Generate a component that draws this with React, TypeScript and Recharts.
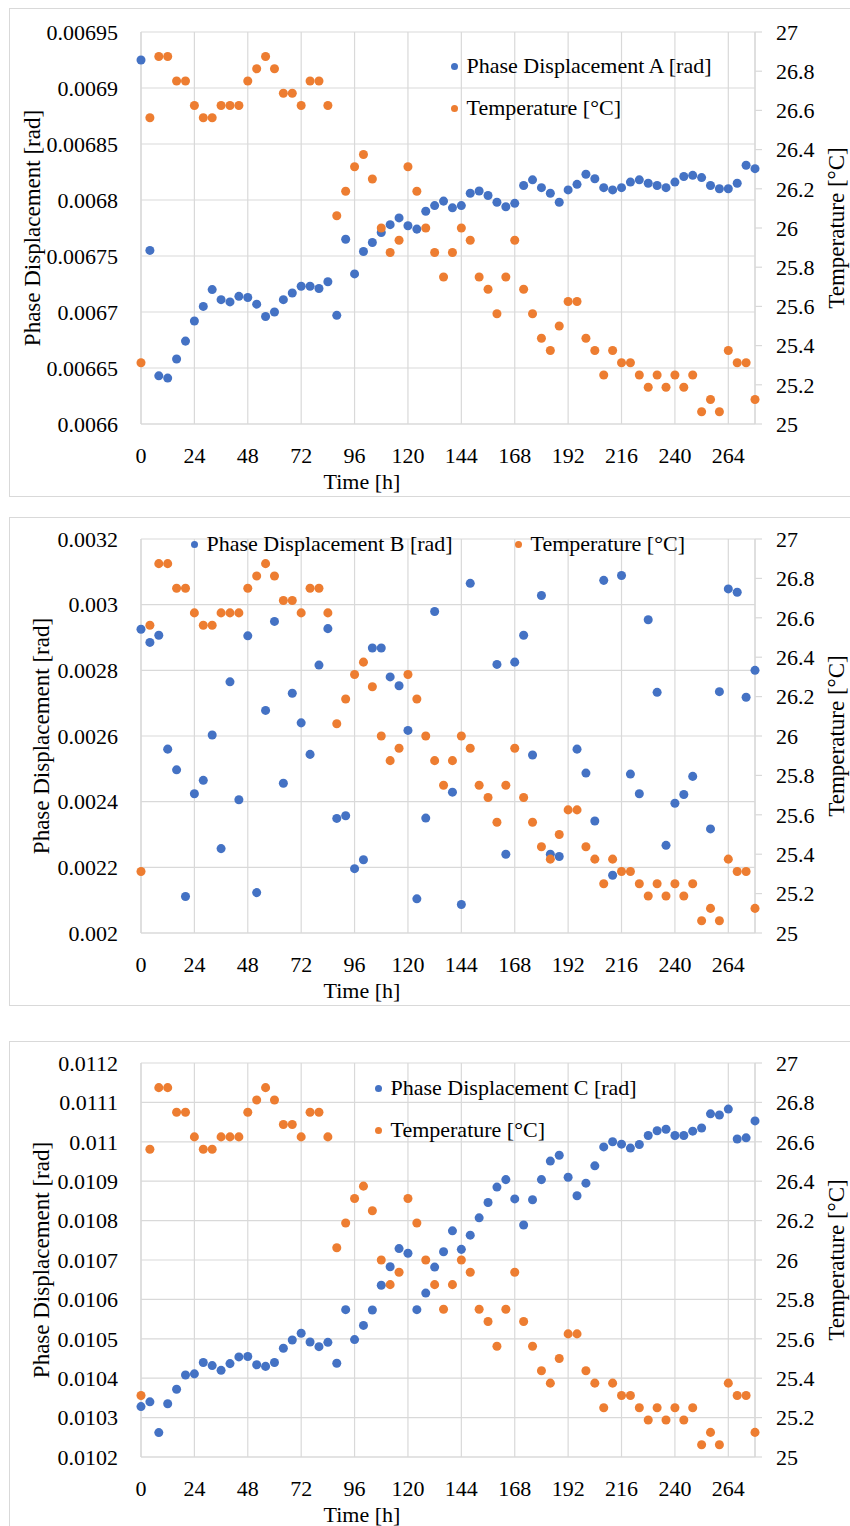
import React from "react";
import { ScatterChart, Scatter, XAxis, YAxis, CartesianGrid, Legend } from "recharts";

const hours = [
  0, 4, 8, 12, 16, 20, 24, 28, 32, 36,
  40, 44, 48, 52, 56, 60, 64, 68, 72, 76,
  80, 84, 88, 92, 96, 100, 104, 108, 112, 116,
  120, 124, 128, 132, 136, 140, 144, 148, 152, 156,
  160, 164, 168, 172, 176, 180, 184, 188, 192, 196,
  200, 204, 208, 212, 216, 220, 224, 228, 232, 236,
  240, 244, 248, 252, 256, 260, 264, 268, 272, 276,
];

const temperature = [
  25.3125, 26.5625, 26.875, 26.875, 26.75, 26.75, 26.625, 26.5625, 26.5625, 26.625,
  26.625, 26.625, 26.75, 26.8125, 26.875, 26.8125, 26.6875, 26.6875, 26.625, 26.75,
  26.75, 26.625, 26.0625, 26.1875, 26.3125, 26.375, 26.25, 26.0, 25.875, 25.9375,
  26.3125, 26.1875, 26.0, 25.875, 25.75, 25.875, 26.0, 25.9375, 25.75, 25.6875,
  25.5625, 25.75, 25.9375, 25.6875, 25.5625, 25.4375, 25.375, 25.5, 25.625, 25.625,
  25.4375, 25.375, 25.25, 25.375, 25.3125, 25.3125, 25.25, 25.1875, 25.25, 25.1875,
  25.25, 25.1875, 25.25, 25.0625, 25.125, 25.0625, 25.375, 25.3125, 25.3125, 25.125,
];

const phaseA = [
  0.006925, 0.006755, 0.006643, 0.006641, 0.006658, 0.006674, 0.006692, 0.006705, 0.00672, 0.006711,
  0.006709, 0.006714, 0.006713, 0.006707, 0.006696, 0.0067, 0.006711, 0.006717, 0.006723, 0.006723,
  0.006721, 0.006727, 0.006697, 0.006765, 0.006734, 0.006754, 0.006762, 0.006771, 0.006778, 0.006784,
  0.006777, 0.006774, 0.00679, 0.006795, 0.006799, 0.006793, 0.006795, 0.006806, 0.006808, 0.006804,
  0.006798, 0.006794, 0.006797, 0.006813, 0.006818, 0.006811, 0.006806, 0.006798, 0.006809, 0.006814,
  0.006823, 0.006819, 0.006811, 0.006809, 0.006811, 0.006816, 0.006818, 0.006815, 0.006813, 0.006811,
  0.006816, 0.006821, 0.006822, 0.00682, 0.006813, 0.00681, 0.00681, 0.006815, 0.006831, 0.006828,
];

const phaseB = [
  0.002925, 0.002885, 0.002907, 0.00256, 0.002497, 0.002111, 0.002424, 0.002465, 0.002603, 0.002257,
  0.002765, 0.002406, 0.002905, 0.002123, 0.002678, 0.002949, 0.002456, 0.00273, 0.00264, 0.002544,
  0.002816, 0.002927, 0.002349, 0.002357, 0.002196, 0.002223, 0.002868, 0.002868, 0.00278, 0.002753,
  0.002617, 0.002104, 0.00235, 0.002979, null, 0.002429, 0.002087, 0.003065, null, null,
  0.002818, 0.00224, 0.002825, 0.002907, 0.002542, 0.003028, 0.00224, 0.002233, null, 0.00256,
  0.002487, 0.002341, 0.003074, 0.002176, 0.003089, 0.002484, 0.002424, 0.002954, 0.002733, 0.002267,
  0.002395, 0.002422, 0.002477, null, 0.002317, 0.002735, 0.003048, 0.003038, 0.002718, 0.0028,
];

const phaseC = [
  0.010328, 0.01034, 0.010262, 0.010335, 0.010372, 0.010408, 0.010411, 0.01044, 0.010432, 0.01042,
  0.010437, 0.010454, 0.010455, 0.010434, 0.01043, 0.01044, 0.010476, 0.010497, 0.010514, 0.010492,
  0.01048, 0.010491, 0.010438, 0.010574, 0.010498, 0.010534, 0.010573, 0.010636, 0.010683, 0.010729,
  0.010717, 0.010574, 0.010616, 0.010682, 0.010721, 0.010774, 0.010727, 0.010763, 0.010807, 0.010846,
  0.010885, 0.010904, 0.010855, 0.010789, 0.010853, 0.010904, 0.010951, 0.010966, 0.01091, 0.010863,
  0.010895, 0.010939, 0.010987, 0.011, 0.010994, 0.010984, 0.010993, 0.011016, 0.011028, 0.011032,
  0.011016, 0.011016, 0.011027, 0.011035, 0.011071, 0.011068, 0.011083, 0.011007, 0.01101, 0.011053,
];

const hourTicks = [0, 24, 48, 72, 96, 120, 144, 168, 192, 216, 240, 264];
const tempTicks = [25, 25.2, 25.4, 25.6, 25.8, 26, 26.2, 26.4, 26.6, 26.8, 27];
const phaseATicks = [0.0066, 0.00665, 0.0067, 0.00675, 0.0068, 0.00685, 0.0069, 0.00695];
const phaseBTicks = [0.002, 0.0022, 0.0024, 0.0026, 0.0028, 0.003, 0.0032];
const phaseCTicks = [0.0102, 0.0103, 0.0104, 0.0105, 0.0106, 0.0107, 0.0108, 0.0109, 0.011, 0.0111, 0.0112];

const BLUE = "#4472C4";
const ORANGE = "#ED7D31";
const GRID = "#d9d9d9";
const FONT = "'Liberation Serif', 'Times New Roman', serif";
const W = 841;
const H = 489;
const tickStyle = { fontSize: 22, fill: "#000", fontFamily: FONT };

const toPoints = (values: (number | null)[]) =>
  hours
    .map((h, i) => ({ x: h, y: values[i] }))
    .filter((p) => p.y !== null);

type Spot = { x: number; y: number };

const makeLegend = (spots: Spot[]) => (props: any) => {
  const payload = props.payload || [];
  return (
    <div style={{ position: "relative", width: W, height: H }}>
      {payload.map((entry: any, i: number) => (
        <div
          key={i}
          style={{
            position: "absolute",
            left: spots[i].x - 3.5,
            top: spots[i].y - 13,
            height: 26,
            lineHeight: "26px",
            display: "flex",
            alignItems: "center",
            whiteSpace: "nowrap",
            fontSize: 22,
            fontFamily: FONT,
            color: "#000",
          }}
        >
          <span
            style={{
              width: 7,
              height: 7,
              borderRadius: "50%",
              background: entry.color,
              marginRight: 9,
              display: "inline-block",
            }}
          />
          <span>{entry.value}</span>
        </div>
      ))}
    </div>
  );
};

const titleStyle: React.CSSProperties = {
  position: "absolute",
  whiteSpace: "nowrap",
  fontFamily: FONT,
  color: "#000",
  lineHeight: "20px",
};

interface PanelProps {
  top: number;
  plotTop: number;
  name: string;
  values: (number | null)[];
  domain: [number, number];
  ticks: number[];
  legendSpots: Spot[];
  leftTitleX: number;
}

const Panel: React.FC<PanelProps> = ({ top, plotTop, name, values, domain, ticks, legendSpots, leftTitleX }) => {
  const plotH = H - plotTop - 73;
  const midY = plotTop + plotH / 2;
  return (
    <div style={{ position: "absolute", left: 9, top, width: W, height: H }}>
      <div
        style={{
          position: "absolute",
          left: 0,
          top: 0,
          width: 900,
          height: H,
          boxSizing: "border-box",
          border: `1px solid ${GRID}`,
        }}
      />
      <div style={{ position: "absolute", left: 0, top: 0, fontFamily: FONT }}>
        <ScatterChart width={W} height={H} margin={{ top: plotTop, right: 0, bottom: 0, left: 0 }}>
          <CartesianGrid yAxisId="left" stroke={GRID} strokeWidth={1.2} />
          <XAxis
            type="number"
            dataKey="x"
            domain={[0, 276]}
            ticks={hourTicks}
            interval={0}
            height={73}
            tickLine={false}
            tickSize={0}
            tickMargin={23}
            axisLine={{ stroke: GRID, strokeWidth: 1.2 }}
            tick={tickStyle}
          />
          <YAxis
            yAxisId="left"
            type="number"
            dataKey="y"
            domain={domain}
            ticks={ticks}
            interval={0}
            width={132}
            tickLine={false}
            tickSize={0}
            tickMargin={23}
            axisLine={{ stroke: GRID, strokeWidth: 1.2 }}
            tick={tickStyle}
          />
          <YAxis
            yAxisId="right"
            orientation="right"
            type="number"
            dataKey="y"
            domain={[25, 27]}
            ticks={tempTicks}
            interval={0}
            width={95}
            tickSize={7}
            tickMargin={14}
            tickLine={{ stroke: GRID, strokeWidth: 1.2 }}
            axisLine={{ stroke: GRID, strokeWidth: 1.2 }}
            tick={tickStyle}
          />
          <Legend
            layout="vertical"
            align="center"
            verticalAlign="middle"
            wrapperStyle={{ left: 0, top: 0, width: W, height: H, pointerEvents: "none" }}
            content={makeLegend(legendSpots)}
          />
          <Scatter
            yAxisId="left"
            name={name}
            data={toPoints(values)}
            fill={BLUE}
            isAnimationActive={false}
          />
          <Scatter
            yAxisId="right"
            name="Temperature [°C]"
            data={toPoints(temperature)}
            fill={ORANGE}
            isAnimationActive={false}
          />
        </ScatterChart>
      </div>
      <div
        style={{
          ...titleStyle,
          left: leftTitleX,
          top: midY,
          fontSize: 23,
          transform: "translate(-50%, -50%) rotate(-90deg)",
        }}
      >
        Phase Displacement [rad]
      </div>
      <div
        style={{
          ...titleStyle,
          left: 828,
          top: midY,
          fontSize: 23,
          transform: "translate(-50%, -50%) rotate(-90deg)",
        }}
      >
        Temperature [°C]
      </div>
      <div
        style={{
          ...titleStyle,
          left: 353,
          top: plotTop + plotH + 58,
          fontSize: 22,
          transform: "translate(-50%, -50%)",
        }}
      >
        Time [h]
      </div>
    </div>
  );
};

export default function App() {
  return (
    <div
      style={{
        position: "absolute",
        left: 0,
        top: 0,
        width: 850,
        height: 1526,
        overflow: "hidden",
        background: "#fff",
        fontFamily: FONT,
      }}
    >
      <Panel
        top={8}
        plotTop={24}
        name="Phase Displacement A [rad]"
        values={phaseA}
        domain={[0.0066, 0.00695]}
        ticks={phaseATicks}
        legendSpots={[
          { x: 445, y: 58 },
          { x: 445, y: 100 },
        ]}
        leftTitleX={24}
      />
      <Panel
        top={517}
        plotTop={22}
        name="Phase Displacement B [rad]"
        values={phaseB}
        domain={[0.002, 0.0032]}
        ticks={phaseBTicks}
        legendSpots={[
          { x: 185, y: 27 },
          { x: 509, y: 27 },
        ]}
        leftTitleX={33}
      />
      <Panel
        top={1041}
        plotTop={22}
        name="Phase Displacement C [rad]"
        values={phaseC}
        domain={[0.0102, 0.0112]}
        ticks={phaseCTicks}
        legendSpots={[
          { x: 369, y: 47 },
          { x: 369, y: 89 },
        ]}
        leftTitleX={33}
      />
    </div>
  );
}
